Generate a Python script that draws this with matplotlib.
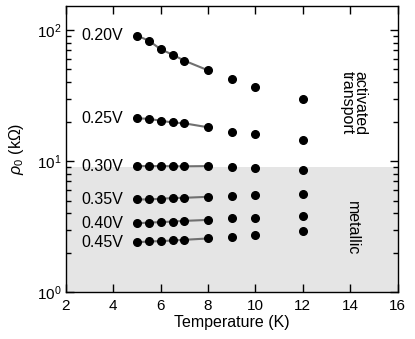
import matplotlib
matplotlib.use("Agg")
import matplotlib.pyplot as plt
from matplotlib.ticker import LogLocator, NullFormatter

plt.rcParams['font.family'] = ['Liberation Sans', 'DejaVu Sans']
plt.rcParams['mathtext.fontset'] = 'custom'
plt.rcParams['mathtext.rm'] = 'Liberation Sans'
plt.rcParams['mathtext.it'] = 'Liberation Sans:italic'

temperature = [5, 5.5, 6, 6.5, 7, 8, 9, 10, 12]
bias_labels = ["0.20V", "0.25V", "0.30V", "0.35V", "0.40V", "0.45V"]
rho_020 = [90.5, 82.8, 71.2, 64.8, 58.3, 49.2, 42.0, 36.9, 29.6]
rho_025 = [21.2, 21.0, 20.3, 19.7, 19.4, 18.1, 16.7, 16.1, 14.6]
rho_030 = [9.16, 9.16, 9.16, 9.14, 9.12, 9.16, 8.95, 8.8, 8.5]
rho_035 = [5.10, 5.10, 5.16, 5.22, 5.25, 5.34, 5.43, 5.50, 5.60]
rho_040 = [3.35, 3.40, 3.42, 3.46, 3.50, 3.56, 3.67, 3.69, 3.80]
rho_045 = [2.40, 2.44, 2.45, 2.48, 2.51, 2.57, 2.63, 2.72, 2.94]
series = [rho_020, rho_025, rho_030, rho_035, rho_040, rho_045]
metallic_boundary = 9.0

fig = plt.figure(figsize=(4.15, 3.39), dpi=100)
ax = fig.add_axes([0.159, 0.138, 0.799, 0.844])
ax.set_yscale('log')
ax.set_xlim(2, 16)
ax.set_ylim(1, 152)

ax.axhspan(1, metallic_boundary, color='#e5e5e5', zorder=0, lw=0)

n_fit = 6
for lab, vals in zip(bias_labels, series):
    ax.plot(temperature[:n_fit], vals[:n_fit], color='#707070', lw=1.5, zorder=2)
    ax.plot(temperature, vals, 'o', color='black', ms=5.5, zorder=3)
    ax.text(4.4, vals[0], lab, ha='right', va='center', fontsize=11.5)

ax.text(14.15, 27.7, "activated\ntransport", rotation=-90, ha='center', va='center',
        fontsize=11.5, linespacing=0.85)
ax.text(14.1, 3.1, "metallic", rotation=-90, ha='center', va='center', fontsize=11.5)

ax.set_xticks([2, 4, 6, 8, 10, 12, 14, 16])
ax.yaxis.set_major_locator(LogLocator(base=10, numticks=10))
ax.yaxis.set_minor_locator(LogLocator(base=10, subs=range(2, 10), numticks=20))
ax.yaxis.set_minor_formatter(NullFormatter())
ax.tick_params(which='major', direction='in', top=True, right=True, length=6, width=1,
               labelsize=11)
ax.tick_params(which='minor', direction='in', left=True, right=True, length=3.5, width=1)
ax.tick_params(axis='x', pad=5)
for s in ax.spines.values():
    s.set_linewidth(1)

ax.set_xlabel("Temperature (K)", fontsize=11.5, labelpad=1)
ax.set_ylabel(r"$\rho_0$ (k$\Omega$)", fontsize=11.5, labelpad=7.5)

fig.savefig("out.png", dpi=100)
